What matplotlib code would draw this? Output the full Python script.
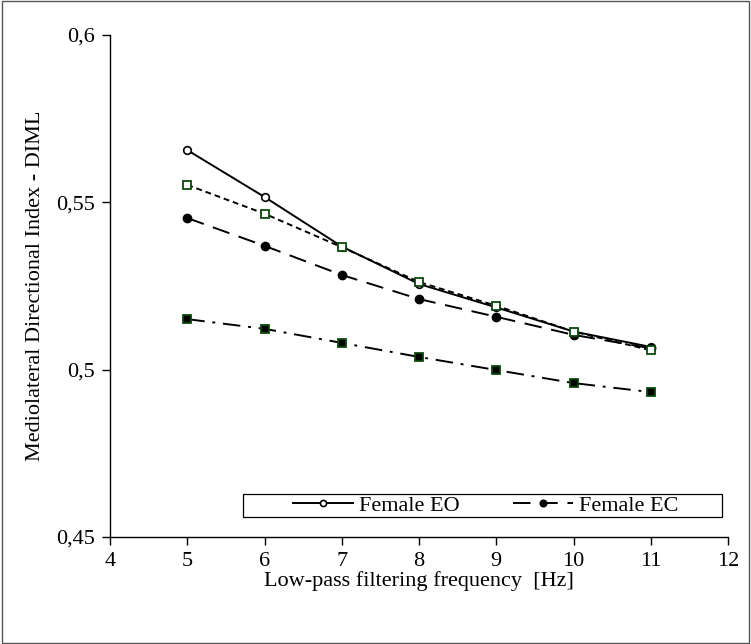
import matplotlib
matplotlib.use("Agg")
import matplotlib.pyplot as plt
from matplotlib.patches import Rectangle

# data
freqs = [5, 6, 7, 8, 9, 10, 11]
female_eo = [0.5656, 0.5516, 0.5368, 0.5256, 0.5186, 0.5114, 0.5068]
female_ec = [0.5453, 0.5370, 0.5283, 0.5211, 0.5158, 0.5104, 0.5064]
male_eo = [0.5552, 0.5466, 0.5366, 0.5262, 0.5191, 0.5114, 0.5058]
male_ec = [0.5151, 0.5122, 0.5080, 0.5038, 0.4999, 0.4960, 0.4933]

x_ticks = [4, 5, 6, 7, 8, 9, 10, 11, 12]
y_ticks = [0.45, 0.5, 0.55, 0.6]
y_ticklabels = ["0,45", "0,5", "0,55", "0,6"]

plt.rcParams["font.family"] = ["Liberation Serif", "DejaVu Serif"]
plt.rcParams["font.size"] = 16

fig = plt.figure(figsize=(7.51, 6.44), dpi=100)
ax = fig.add_axes([0.1465, 0.1661, 0.8229, 0.7796])

green = "#0b4a0b"

l_eo, = ax.plot(freqs, female_eo, "-", color="black", lw=1.4,
                marker="o", ms=5.5, mfc="white", mec="black", mew=1.2)
l_ec, = ax.plot(freqs, female_ec, color="black", lw=1.4, dashes=(9, 5),
                marker="o", ms=6, mfc="black", mec="black")
ax.plot(freqs, male_eo, color="black", lw=1.4, dashes=(3, 2),
        marker="s", ms=6, mfc="white", mec=green, mew=1.3)
ax.plot(freqs, male_ec, color="black", lw=1.4, dashes=(9, 4, 1.5, 4),
        marker="s", ms=6, mfc="black", mec=green, mew=1.3)

ax.set_xlim(4, 12)
ax.set_ylim(0.45, 0.6)
ax.set_xticks(x_ticks)
ax.set_yticks(y_ticks)
ax.set_yticklabels(y_ticklabels)
ax.tick_params(direction="out", length=6, width=1, pad=5)

for s in ["top", "right"]:
    ax.spines[s].set_visible(False)
for s in ["left", "bottom"]:
    ax.spines[s].set_linewidth(1)

ax.set_xlabel("Low-pass filtering frequency  [Hz]", labelpad=0)
ax.set_ylabel("Mediolateral Directional Index - DIML", labelpad=8)

# legend box (only two entries visible in the original)
ax.add_patch(Rectangle((0.215, 0.04), 0.775, 0.046, transform=ax.transAxes,
                       fill=False, edgecolor="black", lw=0.9, clip_on=False))
ax.legend([l_eo, l_ec], ["Female EO", "Female EC"], ncol=2,
          loc="center", bbox_to_anchor=(0.608, 0.063), frameon=False,
          handlelength=2.7, handletextpad=0.25, columnspacing=2.4,
          borderpad=0, fontsize=16, markerscale=0.8)

# outer border of the picture
fig.patches.append(Rectangle((0.002, 0.002), 0.996, 0.996, transform=fig.transFigure,
                             fill=False, edgecolor="#555555", lw=1))

fig.savefig("out.png", dpi=100)
